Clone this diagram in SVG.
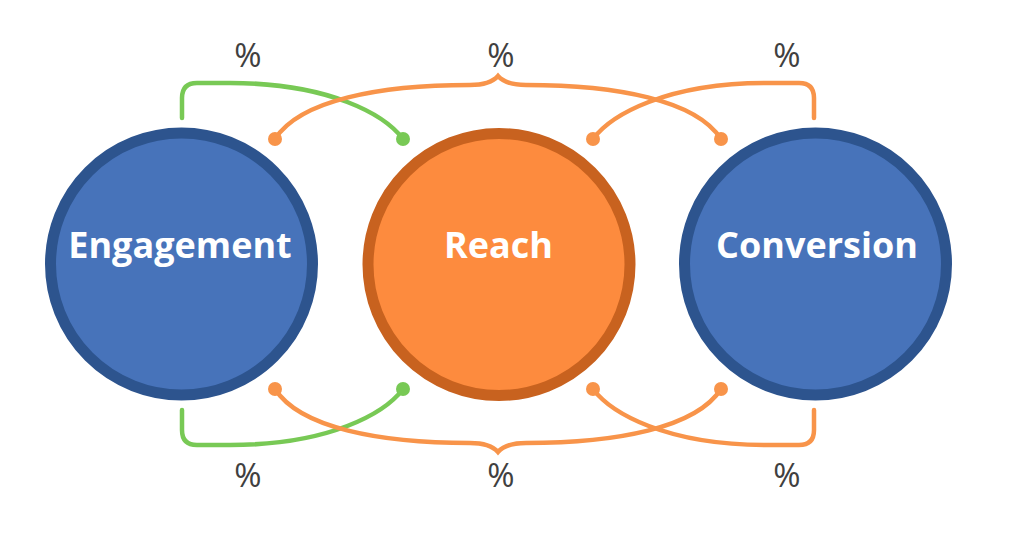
<svg xmlns="http://www.w3.org/2000/svg" width="1024" height="560" viewBox="0 0 1024 560">
<style>
.blue{fill:#4773BA;stroke:#2D548E;stroke-width:11}
.orange{fill:#FD8B3E;stroke:#C8621F;stroke-width:11}
.lbl{font-family:"Open Sans","Liberation Sans",sans-serif;font-weight:bold;font-size:36px;fill:#FFFFFF;text-anchor:middle}
.pct{font-family:"Open Sans","Liberation Sans",sans-serif;font-weight:500;font-size:33px;fill:#404040;text-anchor:middle}
.g{fill:none;stroke:#78C955;stroke-width:4.5;stroke-linecap:round}
.o{fill:none;stroke:#F8944A;stroke-width:4.5;stroke-linecap:round}
.gd{fill:#78C955}
.od{fill:#F8944A}
</style>
<rect width="1024" height="560" fill="#FFFFFF"/>
<g id="connectors">
<path class="g" d="M182 118 L182 98 Q182 83 197 83 L230 83 C330 83 385 115 403 139"/>
<path class="o" d="M275 139 C300 100 380 85 470 85 Q490 85 498 76 Q506 85 526 85 C616 85 696 100 721 139"/>
<path class="o" d="M814 118 L814 98 Q814 83 799 83 L766 83 C666 83 611 115 593 139"/>
<path class="g" d="M182 410 L182 430 Q182 445 197 445 L230 445 C330 445 385 413 403 389"/>
<path class="o" d="M275 389 C300 428 380 443 470 443 Q490 443 498 452 Q506 443 526 443 C616 443 696 428 721 389"/>
<path class="o" d="M814 410 L814 430 Q814 445 799 445 L766 445 C666 445 611 413 593 389"/>
<circle class="gd" cx="403" cy="139" r="7"/>
<circle class="od" cx="275" cy="139" r="7"/>
<circle class="od" cx="721" cy="139" r="7"/>
<circle class="od" cx="593" cy="139" r="7"/>
<circle class="gd" cx="403" cy="389" r="7"/>
<circle class="od" cx="275" cy="389" r="7"/>
<circle class="od" cx="721" cy="389" r="7"/>
<circle class="od" cx="593" cy="389" r="7"/>
</g>
<g id="labels">
<text class="pct" x="248" y="67">%</text>
<text class="pct" x="501" y="67">%</text>
<text class="pct" x="787" y="67">%</text>
<text class="pct" x="248" y="487">%</text>
<text class="pct" x="501" y="487">%</text>
<text class="pct" x="787" y="487">%</text>
</g>
<g id="engagement">
<circle class="blue" cx="181.5" cy="264" r="131"/>
<text class="lbl" x="180" y="258">Engagement</text>
</g>
<g id="reach">
<circle class="orange" cx="499" cy="264.5" r="131"/>
<text class="lbl" x="498.5" y="258">Reach</text>
</g>
<g id="conversion">
<circle class="blue" cx="815.5" cy="264" r="131"/>
<text class="lbl" x="817" y="258">Conversion</text>
</g>
</svg>
